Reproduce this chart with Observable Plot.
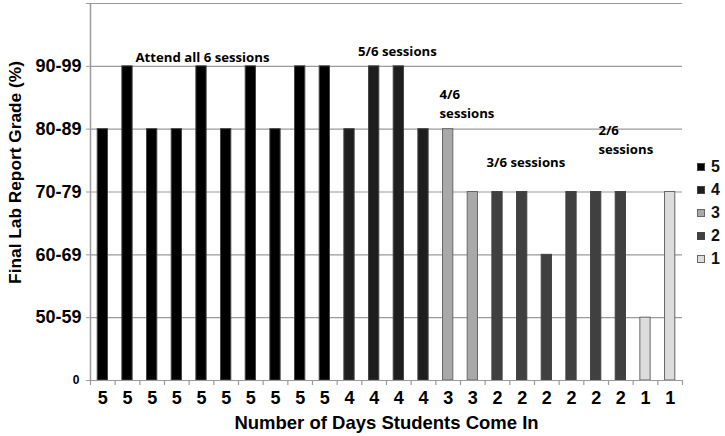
<!DOCTYPE html>
<html><head><meta charset="utf-8">
<script src="https://cdn.jsdelivr.net/npm/d3@7"></script>
<script src="https://cdn.jsdelivr.net/npm/@observablehq/plot@0.6"></script>
<style>
body{margin:0;background:#fff;}
#wrap{position:relative;width:725px;height:436px;overflow:hidden;}
#legend{position:absolute;left:697px;top:155px;font:bold 16px "Liberation Sans",Arial,sans-serif;color:#111;}
.item{display:flex;align-items:center;height:23px;}
.sw{width:8px;height:8px;margin-right:6px;box-sizing:border-box;border:1px solid #555;}
</style></head><body><div id="wrap"></div>
<script>
// Number of days each student came in (x category labels)
const days = [5,5,5,5,5,5,5,5,5,5, 4,4,4,4, 3,3, 2,2,2,2,2,2, 1,1];
// Grade band index: 1=50-59, 2=60-69, 3=70-79, 4=80-89, 5=90-99
const grades = [4,5,4,4,5,4,5,4,5,5, 4,5,5,4, 4,3, 3,3,2,3,3,3, 1,3];
const gradeLabels = ["0","50-59","60-69","70-79","80-89","90-99",""];
const dayKeys = [5,4,3,2,1];
const dayFills = ["#000000","#1e1e1e","#a9a9a9","#404040","#dcdcdc"];
const dayStrokes = ["#444444","#444444","#666666","#444444","#666666"];
const xTitle = "Number of Days Students Come In";
const yTitle = "Final Lab Report Grade (%)";
// annotation anchors in data units (x: student slot, g: grade band)
const notesCentered = [
  {text:"Attend all 6 sessions", x:4.54, g:5.17},
  {text:"5/6 sessions", x:12.44, g:5.26},
  {text:"3/6 sessions", x:17.65, g:3.5}
];
const notesLeft = [
  {text:"4/6\nsessions", x:14.15, g:4.42},
  {text:"2/6\nsessions", x:20.59, g:3.85}
];

const data = days.map((d,i)=>({i, day:d, grade:grades[i]}));
const col = d => dayKeys.indexOf(d);
const font = "'Liberation Sans', Arial, sans-serif";
const noteFont = "'Open Sans', sans-serif";
const noteStyle = {fontFamily:noteFont, fontSize:13.2, fontWeight:"bold", lineHeight:1.45, fill:"#000"};

const chart = Plot.plot({
  width:725, height:436,
  marginLeft:90, marginRight:43, marginTop:3, marginBottom:56,
  style:{fontFamily:font, background:"#fff", color:"#000"},
  x:{type:"linear", domain:[0, days.length], axis:null, label:null},
  y:{type:"linear", domain:[0, 6], axis:null, label:null},
  color:{type:"identity"},
  marks:[
    Plot.gridY(d3.range(7), {stroke:"#9a9a9a", strokeOpacity:1, strokeWidth:1.2}),
    Plot.rect(data, {x1:"i", x2:d=>d.i+1, y1:0, y2:"grade",
      fill:d=>dayFills[col(d.day)], stroke:d=>dayStrokes[col(d.day)], strokeWidth:1,
      insetLeft:7.2, insetRight:7.2}),
    Plot.ruleX([0], {stroke:"#9a9a9a", strokeWidth:1.5}),
    Plot.ruleY([0], {stroke:"#9a9a9a", strokeWidth:1.2}),
    Plot.axisY(d3.range(1,7), {tickFormat:k=>gradeLabels[k], tickSize:4, tickPadding:5, label:null,
      stroke:"#9a9a9a", fontSize:18, fontWeight:"bold", fill:"#000"}),
    Plot.axisY([0], {tickFormat:k=>gradeLabels[k], tickSize:4, tickPadding:7, label:null,
      stroke:"#9a9a9a", fontSize:12, fontWeight:"bold", fill:"#000"}),
    Plot.axisX(d3.range(days.length+1), {tickFormat:()=>"", tickSize:5, label:null,
      stroke:"#9a9a9a", strokeWidth:1.2}),
    Plot.axisX(d3.range(days.length).map(i=>i+0.5), {tickFormat:v=>String(days[Math.floor(v)]),
      tickSize:0, tickPadding:11, label:null, fontSize:18, fontWeight:"bold", fill:"#000"}),
    Plot.text([xTitle], {frameAnchor:"bottom", lineAnchor:"middle", dy:43,
      fontSize:18.5, fontWeight:"bold", fill:"#000"}),
    Plot.text([yTitle], {frameAnchor:"left", textAnchor:"middle", lineAnchor:"middle", rotate:-90, dx:-75, dy:-19.5,
      fontSize:17.3, fontWeight:"bold", fill:"#000"}),
    Plot.text(notesCentered, {x:"x", y:"g", text:"text", textAnchor:"middle", ...noteStyle}),
    Plot.text(notesLeft, {x:"x", y:"g", text:"text", textAnchor:"start", ...noteStyle})
  ]
});
document.getElementById("wrap").appendChild(chart);

const legend = document.createElement("div");
legend.id = "legend";
dayKeys.forEach((k,j)=>{
  const it = document.createElement("div"); it.className="item";
  const sw = document.createElement("span"); sw.className="sw";
  sw.style.background = dayFills[j];
  sw.style.borderColor = dayStrokes[j];
  const t = document.createElement("span"); t.textContent = k;
  it.appendChild(sw); it.appendChild(t); legend.appendChild(it);
});
document.getElementById("wrap").appendChild(legend);
</script></body></html>
